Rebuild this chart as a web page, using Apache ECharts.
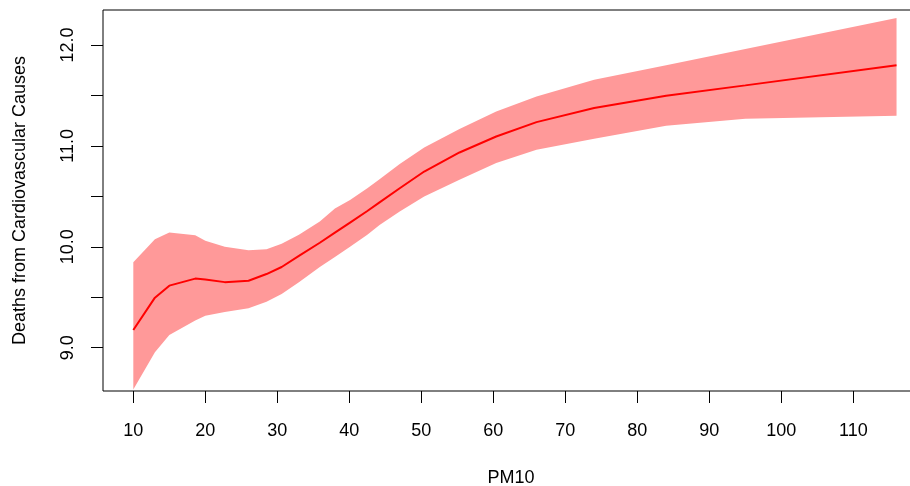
<!DOCTYPE html>
<html>
<head>
<meta charset="utf-8">
<script src="https://cdn.jsdelivr.net/npm/echarts@6/dist/echarts.min.js"></script>
<style>
  html, body { margin: 0; padding: 0; background: #fff; }
  #chart { width: 910px; height: 486px; }
</style>
</head>
<body>
<div id="chart"></div>
<script>
// PM10 concentration and fitted cardiovascular deaths with confidence band
const pm10  = [10, 13, 15, 18.6, 20, 22.7, 26, 28.5, 30.6, 33, 35.9, 38, 40.1, 42.5, 44.2, 47, 50.4, 55.3, 60.4, 66, 74, 84, 95, 116];
const fit   = [9.176, 9.496, 9.615, 9.685, 9.675, 9.650, 9.664, 9.730, 9.800, 9.910, 10.04, 10.14, 10.24, 10.355, 10.44, 10.58, 10.746, 10.935, 11.093, 11.236, 11.375, 11.497, 11.60, 11.80];
const upper = [9.847, 10.075, 10.141, 10.115, 10.06, 10.00, 9.965, 9.976, 10.03, 10.12, 10.25, 10.38, 10.465, 10.58, 10.67, 10.82, 10.984, 11.167, 11.341, 11.49, 11.656, 11.80, 11.96, 12.268];
const lower = [8.587, 8.955, 9.126, 9.27, 9.317, 9.355, 9.392, 9.456, 9.533, 9.65, 9.80, 9.90, 10.0, 10.12, 10.217, 10.35, 10.498, 10.664, 10.83, 10.961, 11.07, 11.2, 11.27, 11.30];

const xTicks = [10, 20, 30, 40, 50, 60, 70, 80, 90, 100, 110];
const yTicks = [9, 9.5, 10, 10.5, 11, 11.5, 12];
const yLabels = [9, 10, 11, 12];

const FONT = '"Liberation Sans", Arial, Helvetica, sans-serif';

const chart = echarts.init(document.getElementById('chart'), null, { renderer: 'canvas' });

const bandData = pm10.map((x, i) => [x, lower[i], upper[i]]);
const lineData = pm10.map((x, i) => [x, fit[i]]);

chart.setOption({
  animation: false,
  backgroundColor: '#ffffff',
  grid: {
    left: 103, top: 10, width: 816, height: 381,
    outerBoundsMode: 'none',
    containLabel: false,
    show: true, borderColor: '#000', borderWidth: 1, backgroundColor: 'transparent'
  },
  xAxis: {
    type: 'value',
    min: 5.79, max: 119.12,
    name: 'PM10',
    nameLocation: 'middle',
    nameGap: 78,
    nameTextStyle: { fontFamily: FONT, fontSize: 18, color: '#000' },
    axisLine: { show: false },
    splitLine: { show: false },
    axisTick: { show: true, length: 12, customValues: xTicks, lineStyle: { color: '#000', width: 1 } },
    axisLabel: {
      customValues: xTicks, margin: 31,
      fontFamily: FONT, fontSize: 18, color: '#000'
    }
  },
  yAxis: {
    type: 'value',
    min: 8.571, max: 12.347,
    name: 'Deaths from Cardiovascular Causes',
    nameLocation: 'middle',
    nameRotate: 90,
    nameGap: 74,
    nameTextStyle: { fontFamily: FONT, fontSize: 18, color: '#000' },
    axisLine: { show: false },
    splitLine: { show: false },
    axisTick: { show: true, length: 12, customValues: yTicks, lineStyle: { color: '#000', width: 1 } },
    axisLabel: {
      customValues: yLabels, rotate: 90, margin: 26,
      fontFamily: FONT, fontSize: 18, color: '#000',
      formatter: v => v.toFixed(1)
    }
  },
  series: [
    {
      type: 'custom',
      name: 'band',
      data: bandData,
      encode: { x: 0, y: [1, 2] },
      silent: true,
      z: 1,
      renderItem: function (params, api) {
        if (params.dataIndex !== 0) return null;
        const pts = [];
        for (let i = 0; i < pm10.length; i++) pts.push(api.coord([pm10[i], upper[i]]));
        for (let i = pm10.length - 1; i >= 0; i--) pts.push(api.coord([pm10[i], lower[i]]));
        return {
          type: 'polygon',
          shape: { points: pts },
          style: { fill: '#ff9999', stroke: null }
        };
      }
    },
    {
      type: 'line',
      name: 'fit',
      data: lineData,
      showSymbol: false,
      symbol: 'none',
      z: 3,
      lineStyle: { color: '#ff0000', width: 2 }
    }
  ]
});
</script>
</body>
</html>
